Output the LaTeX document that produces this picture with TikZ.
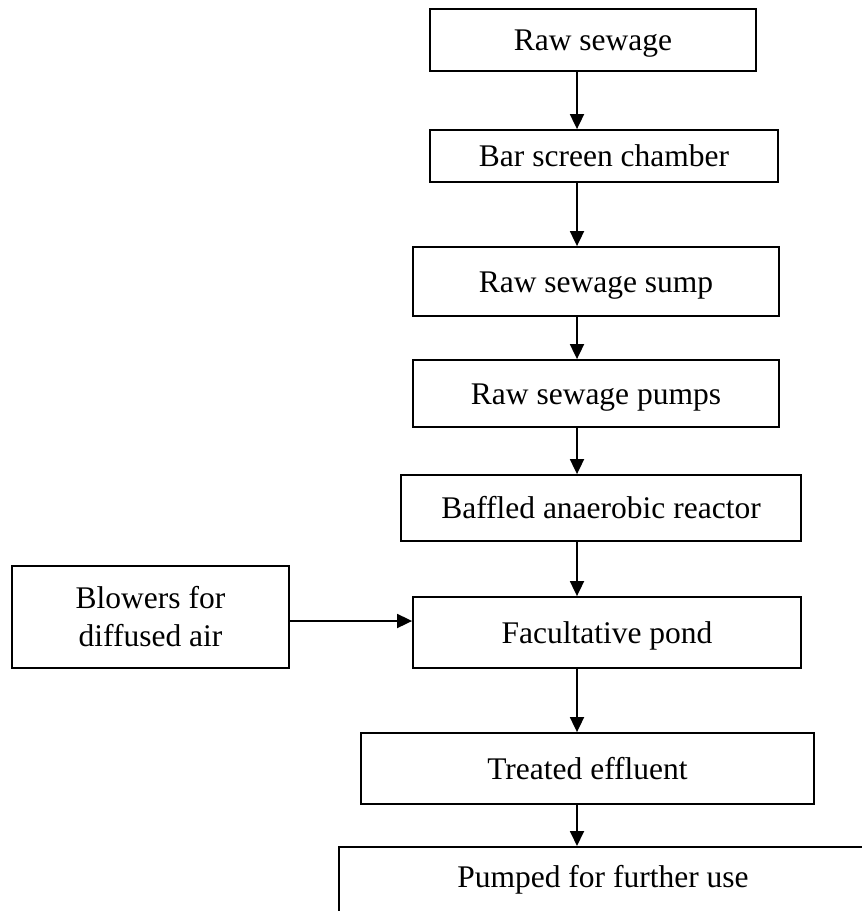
\documentclass[tikz,border=0pt]{standalone}
\usepackage{fontspec}
\setmainfont{Liberation Serif}
\usetikzlibrary{arrows.meta}
\begin{document}
\begin{tikzpicture}[x=1pt,y=-1pt,
  box/.style={draw, line width=1.8pt, inner sep=0pt, font=\fontsize{31.5}{38}\selectfont},
  one/.style={text height=21pt, text depth=0pt},
  arr/.style={line width=1.8pt, -{Triangle[length=15pt,width=14pt]}}]
\useasboundingbox (0,0) rectangle (862,911);
\clip (0,0) rectangle (862,911);
\coordinate (ax) at (577,0);
\coordinate (ay) at (0,621);
\node[box, one, minimum width=326pt, minimum height=62pt] (b1) at (593,40) {Raw sewage};
\node[box, one, minimum width=348pt, minimum height=52pt] (b2) at (604,156) {Bar screen chamber};
\node[box, one, minimum width=366pt, minimum height=69pt] (b3) at (596,281.5) {Raw sewage sump};
\node[box, one, minimum width=366pt, minimum height=67pt] (b4) at (596,393.5) {Raw sewage pumps};
\node[box, one, minimum width=400pt, minimum height=66pt] (b5) at (601,508) {Baffled anaerobic reactor};
\node[box, one, minimum width=388pt, minimum height=71pt] (b6) at (607,632.5) {Facultative pond};
\node[box, align=center, minimum width=277pt, minimum height=102pt] (b7) at (150.5,617) {Blowers for\\diffused air};
\node[box, one, minimum width=453pt, minimum height=71pt] (b8) at (587.5,768.5) {Treated effluent};
\node[box, anchor=north west, minimum width=582pt, minimum height=114pt] (b9) at (338,846) {};
\node[box, draw=none, anchor=base] (t9) at (603,887) {Pumped for further use};
\draw[arr] (b1.south -| ax) -- (b2.north -| ax);
\draw[arr] (b2.south -| ax) -- (b3.north -| ax);
\draw[arr] (b3.south -| ax) -- (b4.north -| ax);
\draw[arr] (b4.south -| ax) -- (b5.north -| ax);
\draw[arr] (b5.south -| ax) -- (b6.north -| ax);
\draw[arr] (b6.south -| ax) -- (b8.north -| ax);
\draw[arr] (b8.south -| ax) -- (b9.north -| ax);
\draw[arr] (b7.east |- ay) -- (b6.west |- ay);
\end{tikzpicture}
\end{document}
